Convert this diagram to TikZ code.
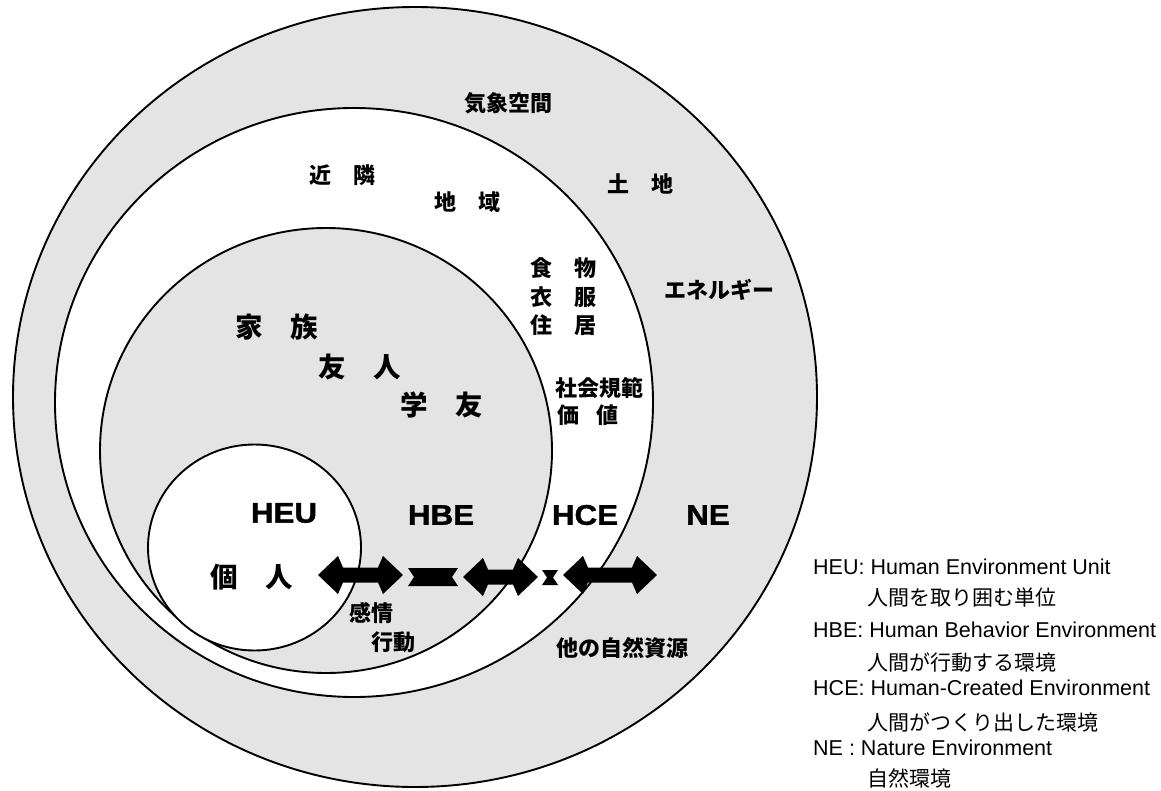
\documentclass[tikz,border=0pt]{standalone}
\usepackage{fontspec}
\usepackage{graphicx}
\setmainfont{Liberation Sans}
\newfontfamily\jp{Noto Sans CJK JP}
\newfontfamily\heavy{Liberation Sans}[UprightFont={* Bold}, FakeBold=1.2]
\definecolor{ringgray}{RGB}{228,228,228}
\begin{document}
\begin{tikzpicture}[x=1pt,y=-1pt,
  ring/.style={line width=1.9pt, draw=black},
  lab/.style={font=\jp\bfseries\fontsize{22}{24}\selectfont, inner sep=0pt},
  biglab/.style={font=\jp\bfseries\fontsize{27.5}{30}\selectfont, inner sep=0pt},
  envlab/.style={font=\heavy\fontsize{28.5}{31}\selectfont, inner sep=0pt},
  legen/.style={font=\fontsize{21.5}{24}\selectfont, inner sep=0pt, anchor=base west},
  legjp/.style={font=\jp\fontsize{21}{24}\selectfont, inner sep=0pt, anchor=base west},
  blk/.style={fill=black}
]
\useasboundingbox (0,0) rectangle (1161,791);
\fill[white] (0,0) rectangle (1161,791);

% rings
\filldraw[ring, fill=ringgray] (415,397) ellipse [x radius=402pt, y radius=390pt];
\filldraw[ring, fill=white] (354,402.5) ellipse [x radius=299pt, y radius=294.5pt];
\filldraw[ring, fill=ringgray] (326,450.5) ellipse [x radius=226pt, y radius=222.5pt];
\filldraw[ring, fill=white] (254.5,547.5) ellipse [x radius=106.5pt, y radius=103pt];

% NE labels
\node[lab] (kisho) at (508,103) {気象空間};
\node[lab] (tochi) at (640,184) {土　地};
\node[lab] (energy) at (719,290) {エネルギー};
\node[lab] (shigen) at (622,648) {他の自然資源};

% HCE labels
\node[lab] (kinrin) at (342,175) {近　隣};
\node[lab] (chiiki) at (467,202) {地　域};
\node[lab] (shoku) at (563,268) {食　物};
\node[lab] (ifuku) at (563,297) {衣　服};
\node[lab] (jukyo) at (563,325) {住　居};
\node[lab] (kihan) at (599,388) {社会規範};
\node[lab] (kachi) at (588,415) {価\hspace{0.8em}値};

% HBE labels
\node[biglab] (kazoku) at (277,327) {家　族};
\node[biglab] (yujin) at (360,367) {友　人};
\node[biglab] (gakuyu) at (442,405) {学　友};
\node[lab] (kanjo) at (371,613) {感情};
\node[lab] (kodo) at (393,642) {行動};

% HEU labels
\node[biglab] (kojin) at (252,577) {個　人};

% environment abbreviations
\node[envlab] (heu) at (284,513) {\scalebox{1.1}[1]{HEU}};
\node[envlab] (hbe) at (441,515) {\scalebox{1.1}[1]{HBE}};
\node[envlab] (hce) at (585,515) {\scalebox{1.1}[1]{HCE}};
\node[envlab] (ne) at (708,515) {\scalebox{1.1}[1]{NE}};

% arrows and links
\fill[blk] (318,575) -- (338,556) -- (343,567.5) -- (378,567.5) -- (383,556) -- (403,575)
  -- (383,594) -- (378,582.5) -- (343,582.5) -- (338,594) -- cycle;
\fill[blk] (408,568) -- (458,568) -- (452,577) -- (458,586) -- (408,586) -- (414,577) -- cycle;
\fill[blk] (463,577) -- (483,558) -- (488,569.5) -- (513,569.5) -- (518,558) -- (538,577)
  -- (518,596) -- (513,584.5) -- (488,584.5) -- (483,596) -- cycle;
\fill[blk] (542,570) -- (558,570) -- (553,577.5) -- (558,585) -- (542,585) -- (547,577.5) -- cycle;
\fill[blk] (563,575) -- (583,556) -- (588,567.5) -- (632,567.5) -- (637,556) -- (657,575)
  -- (637,594) -- (632,582.5) -- (588,582.5) -- (583,594) -- cycle;

% legend
\node[legen] (l1) at (813,574.5) {HEU: Human Environment Unit};
\node[legjp] (l2) at (867,605) {人間を取り囲む単位};
\node[legen] (l3) at (813,637.5) {HBE: Human Behavior Environment};
\node[legjp] (l4) at (867,670) {人間が行動する環境};
\node[legen] (l5) at (813,695.5) {HCE: Human-Created Environment};
\node[legjp] (l6) at (867,730) {人間がつくり出した環境};
\node[legen] (l7) at (813,755.5) {NE : Nature Environment};
\node[legjp] (l8) at (867,786) {自然環境};
\end{tikzpicture}
\end{document}
